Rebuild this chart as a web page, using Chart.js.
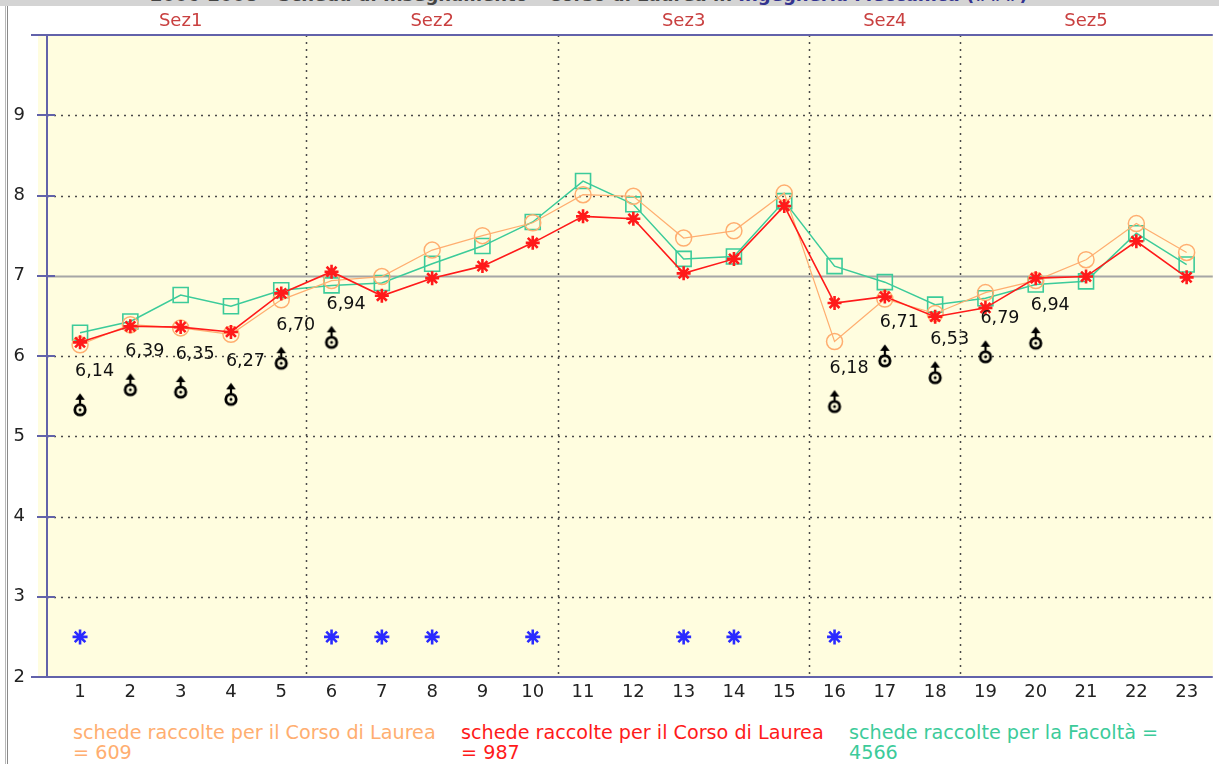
<!DOCTYPE html>
<html lang="it">
<head>
<meta charset="UTF-8"/>
<title>Schede raccolte - Sez1-Sez5</title>
<script src="https://cdn.jsdelivr.net/npm/chart.js@4"></script>
<style>
  * { box-sizing: border-box; margin: 0; padding: 0; }
  html, body { overflow: hidden; }
  body { width: 1219px; height: 764px; background: #fff; position: relative; font-family: 'DejaVu Sans', sans-serif; }
  .topbar { position: absolute; left: 0; top: 0; width: 1219px; height: 6px; background: #d4d4d4; overflow: hidden; z-index: 2; }
  .topbar span { position: absolute; left: 150px; top: -16px; font-size: 18px; font-weight: bold; color: #444; white-space: nowrap; }
  .topbar b { color: #33338f; }
  .frame { position: absolute; left: 5px; top: 0; width: 3px; height: 764px; border-left: 1px solid #b8b8b8; border-right: 1px solid #8a8a8a; }
  .clip { position: absolute; left: 0; top: 0; width: 1219px; height: 720px; overflow: hidden; }
  #chart { position: absolute; left: 0; top: 0; }
  .legend { position: absolute; top: 723px; font-size: 19.2px; line-height: 20px; white-space: nowrap; }
</style>
</head>
<body>

<div class="topbar"><span>2006-2008 - Scheda di Insegnamento - Corso di Laurea in <b>Ingegneria Meccanica (###)</b></span></div>
<div class="frame"></div>
<div class="clip"><canvas id="chart" width="1225" height="720"></canvas></div>

<div class="legend" style="left:73px; color:#ffae70;">schede raccolte per il Corso di Laurea<br>= 609</div>
<div class="legend" style="left:461px; color:#ff1a1a;">schede raccolte per il Corso di Laurea<br>= 987</div>
<div class="legend" style="left:849px; color:#3ccb9a;">schede raccolte per la Facoltà =<br>4566</div>

<script>
// categories (domande) 1..23
const categories   = [1, 2, 3, 4, 5, 6, 7, 8, 9, 10, 11, 12, 13, 14, 15, 16, 17, 18, 19, 20, 21, 22, 23];
const orangeValues = [6.14, 6.39, 6.35, 6.27, 6.70, 6.94, 6.99, 7.32, 7.50, 7.66, 8.01, 7.99, 7.47, 7.56, 8.03, 6.18, 6.71, 6.53, 6.79, 6.94, 7.20, 7.65, 7.29];
const redValues    = [6.17, 6.37, 6.36, 6.30, 6.78, 7.05, 6.75, 6.97, 7.12, 7.41, 7.74, 7.71, 7.03, 7.21, 7.87, 6.66, 6.74, 6.49, 6.60, 6.97, 6.99, 7.43, 6.98];
const tealValues   = [6.29, 6.43, 6.76, 6.62, 6.82, 6.88, 6.91, 7.15, 7.37, 7.67, 8.18, 7.89, 7.21, 7.24, 7.93, 7.12, 6.92, 6.64, 6.72, 6.89, 6.93, 7.53, 7.14];

// flagged questions: black symbol + orange value label
const symbolCats   = [1, 2, 3, 4, 5, 6, 16, 17, 18, 19, 20];
const symbolValues = [5.33, 5.58, 5.55, 5.46, 5.91, 6.17, 5.37, 5.94, 5.73, 5.99, 6.16];

// blue asterisks row
const blueCats   = [1, 6, 7, 8, 10, 13, 14, 16];
const blueValues = [2.5, 2.5, 2.5, 2.5, 2.5, 2.5, 2.5, 2.5];

// sections
const sectionNames = ['Sez1', 'Sez2', 'Sez3', 'Sez4', 'Sez5'];
const sectionFirst = [1, 6, 11, 16, 19];
const sectionLast  = [5, 10, 15, 18, 23];

const yTicks = [2, 3, 4, 5, 6, 7, 8, 9];

const FONT = "'DejaVu Sans', sans-serif";
const AXIS_BLUE = '#6262aa';

function makeSymbol() {
  const c = document.createElement('canvas');
  c.width = 20; c.height = 38;
  const g = c.getContext('2d');
  const cx = 10, cy = 19;
  g.strokeStyle = '#000'; g.fillStyle = '#000';
  g.lineWidth = 2.8;
  g.beginPath(); g.arc(cx, cy, 5.2, 0, Math.PI * 2); g.stroke();
  g.beginPath(); g.arc(cx, cy, 1.5, 0, Math.PI * 2); g.fill();
  g.lineWidth = 2.2;
  g.beginPath(); g.moveTo(cx, cy - 6); g.lineTo(cx, cy - 11); g.stroke();
  g.beginPath(); g.moveTo(cx - 4.8, cy - 10); g.lineTo(cx + 4.8, cy - 10); g.lineTo(cx, cy - 16.5); g.closePath(); g.fill();
  return c;
}

const zip = (xs, ys) => xs.map((x, i) => ({ x: x, y: ys[i] }));

const backgroundPlugin = {
  id: 'background',
  beforeDatasetsDraw(chart) {
    const { ctx, chartArea: a, scales: { x, y } } = chart;
    ctx.save();
    ctx.fillStyle = '#fffddf';
    ctx.fillRect(a.left - 9, a.top, a.right - a.left + 9, a.bottom - a.top);

    // horizontal grid
    yTicks.forEach(v => {
      if (v === 2) return;
      const py = Math.round(y.getPixelForValue(v)) + 0.5;
      ctx.beginPath();
      if (v === 7) {
        ctx.setLineDash([]); ctx.strokeStyle = '#a6a6a6'; ctx.lineWidth = 2;
      } else {
        ctx.setLineDash([2, 5]); ctx.strokeStyle = '#4a4a4a'; ctx.lineWidth = 1.5;
      }
      ctx.moveTo(a.left, py); ctx.lineTo(a.right, py); ctx.stroke();
    });

    // section separators
    ctx.setLineDash([2, 5]); ctx.strokeStyle = '#4a4a4a'; ctx.lineWidth = 1.5;
    sectionLast.slice(0, -1).forEach(v => {
      const px = Math.round(x.getPixelForValue(v + 0.5)) + 0.5;
      ctx.beginPath(); ctx.moveTo(px, a.top); ctx.lineTo(px, a.bottom); ctx.stroke();
    });

    // axes frame
    ctx.setLineDash([]); ctx.strokeStyle = AXIS_BLUE; ctx.lineWidth = 2;
    yTicks.forEach(v => {
      const py = Math.round(y.getPixelForValue(v));
      ctx.beginPath(); ctx.moveTo(a.left - 10, py); ctx.lineTo(a.left + 8, py); ctx.stroke();
    });
    ctx.beginPath(); ctx.moveTo(a.left, a.top); ctx.lineTo(a.left, a.bottom); ctx.stroke();
    ctx.beginPath(); ctx.moveTo(a.left - 16, a.top); ctx.lineTo(a.right, a.top); ctx.stroke();
    ctx.beginPath(); ctx.moveTo(a.left - 16, a.bottom); ctx.lineTo(a.right, a.bottom); ctx.stroke();
    ctx.restore();
  },
  afterDraw(chart) {
    const { ctx, scales: { x } } = chart;
    ctx.save();
    ctx.font = '18px ' + FONT;
    ctx.fillStyle = '#c94040';
    ctx.textAlign = 'center';
    ctx.textBaseline = 'middle';
    sectionNames.forEach((n, i) => {
      ctx.fillText(n, x.getPixelForValue((sectionFirst[i] + sectionLast[i]) / 2), 21);
    });
    ctx.restore();
  }
};

const symbolLabelPlugin = {
  id: 'symbolLabels',
  afterDatasetsDraw(chart) {
    const { ctx, scales: { x, y } } = chart;
    ctx.save();
    ctx.font = '17.5px ' + FONT;
    ctx.fillStyle = '#111';
    ctx.textAlign = 'left';
    ctx.textBaseline = 'middle';
    symbolCats.forEach((c, i) => {
      const txt = orangeValues[c - 1].toFixed(2).replace('.', ',');
      ctx.fillText(txt, x.getPixelForValue(c) - 5, y.getPixelForValue(symbolValues[i]) - 38);
    });
    ctx.restore();
  }
};

new Chart(document.getElementById('chart'), {
  type: 'line',
  data: {
    datasets: [{
      label: 'schede raccolte per il Corso di Laurea = 987',
      data: zip(categories, redValues),
      borderColor: '#ff1a1a',
      borderWidth: 1.6,
      pointStyle: 'star',
      pointRadius: 7,
      pointBorderWidth: 2.6,
      pointBorderColor: '#ff1a1a',
      order: 1
    }, {
      label: 'schede raccolte per il Corso di Laurea = 609',
      data: zip(categories, orangeValues),
      borderColor: '#ffae70',
      borderWidth: 1.2,
      pointStyle: 'circle',
      pointRadius: 8,
      pointBorderWidth: 1.5,
      pointBorderColor: '#ffae70',
      pointBackgroundColor: 'rgba(0,0,0,0)',
      order: 2
    }, {
      label: 'schede raccolte per la Facoltà = 4566',
      data: zip(categories, tealValues),
      borderColor: '#3ccb9a',
      borderWidth: 1.5,
      pointStyle: 'rect',
      pointRadius: 10.6,
      pointBorderWidth: 1.6,
      pointBorderColor: '#3ccb9a',
      pointBackgroundColor: 'rgba(0,0,0,0)',
      order: 3
    }, {
      label: 'segnalazioni',
      data: zip(symbolCats, symbolValues),
      showLine: false,
      pointStyle: makeSymbol(),
      order: 0
    }, {
      label: 'asterischi',
      data: zip(blueCats, blueValues),
      showLine: false,
      pointStyle: 'star',
      pointRadius: 7.5,
      pointBorderWidth: 2.6,
      pointBorderColor: '#2a2aff',
      order: 0
    }]
  },
  options: {
    responsive: false,
    animation: false,
    devicePixelRatio: 1,
    layout: { padding: { top: 35, right: 1, left: 0, bottom: 0 } },
    plugins: { legend: { display: false }, tooltip: { enabled: false } },
    scales: {
      x: {
        type: 'linear',
        min: 0.343,
        max: 23.52,
        afterBuildTicks: s => { s.ticks = categories.map(v => ({ value: v })); },
        afterFit: s => { s.height = 43; },
        grid: { display: false, drawTicks: false },
        border: { display: false },
        ticks: { autoSkip: false, maxRotation: 0, padding: 5, color: '#222', font: { family: FONT, size: 18 } }
      },
      y: {
        min: 2,
        max: 10,
        afterFit: s => { s.width = 47; },
        grid: { display: false, drawTicks: false },
        border: { display: false },
        ticks: { stepSize: 1, padding: 22, color: '#222', font: { family: FONT, size: 18 },
                 callback: v => (v === 10 ? '' : v) }
      }
    }
  },
  plugins: [backgroundPlugin, symbolLabelPlugin]
});
</script>

</body>
</html>
